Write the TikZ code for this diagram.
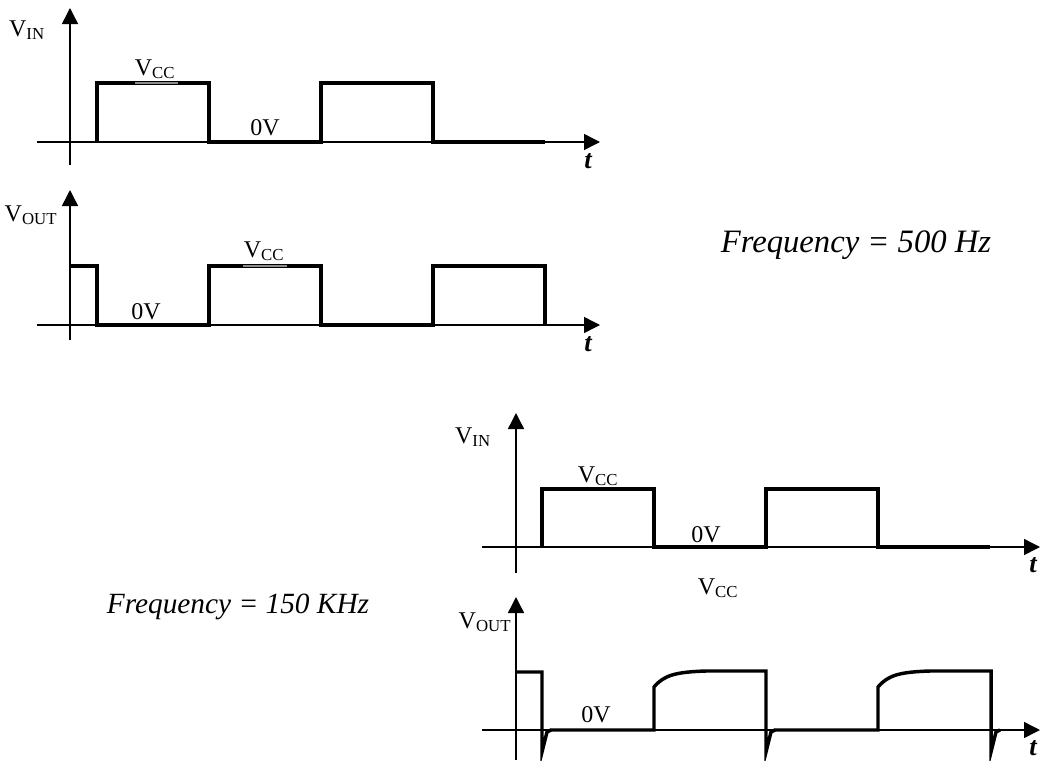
\documentclass[tikz,border=0pt]{standalone}
\usepackage{fontspec}
\setmainfont{Liberation Serif}
\usetikzlibrary{arrows.meta}

\begin{document}
\begin{tikzpicture}[y=-0.75pt,x=0.75pt,
	axis/.style={line width=1.1pt,-{Triangle[length=12pt,width=12pt]}},
	sig/.style={line width=2.6pt,line join=miter},
	mark vcc/.style={line width=1.6pt,black!45},
	lbl/.style={font=\fontsize{18}{21}\selectfont,inner sep=0pt},
	tlbl/.style={font=\fontsize{20}{24}\selectfont\bfseries\itshape,inner sep=0pt},
	freq/.style={font=\fontsize{22}{27}\selectfont\itshape,inner sep=0pt}]
	\useasboundingbox (0,0) rectangle (1041,760);
	\newcommand\VCC{V\textsubscript{CC}}
	\newcommand\Hook{-- +(5,-20) -- +(9,-22)}

	% 500 Hz, input
	\draw[axis] (70,165) -- (70,8);
	\draw[axis] (37,142) -- (600,142);
	\draw[sig] (97,142) -- (97,83) -- (209,83) -- (209,142) -- (321,142) -- (321,83) -- (433,83) -- (433,142) -- (545,142);
	\draw[mark vcc] (135,83) -- (178,83);
	\node[lbl] (vin1) at (27,30) {V\textsubscript{IN}};
	\node[lbl] (vcc1) at (155,69) {\VCC};
	\node[lbl] (zero1) at (265,128) {0V};
	\node[tlbl] (t1) at (588,161) {t};

	% 500 Hz, output
	\draw[axis] (70,340) -- (70,190);
	\draw[axis] (37,325) -- (600,325);
	\draw[sig] (70,266) -- (97,266) -- (97,325) -- (209,325) -- (209,266) -- (321,266) -- (321,325) -- (433,325) -- (433,266) -- (545,266) -- (545,325);
	\draw[mark vcc] (243,266) -- (287,266);
	\node[lbl] (vout2) at (31,215) {V\textsubscript{OUT}};
	\node[lbl] (vcc2) at (264,251) {\VCC};
	\node[lbl] (zero2) at (146,312) {0V};
	\node[tlbl] (t2) at (588,344) {t};

	\node[freq,font=\fontsize{24.5}{29}\selectfont\itshape] (f1) at (856,245) {Frequency = 500 Hz};

	% 150 KHz, input
	\draw[axis] (516,573) -- (516,413);
	\draw[axis] (482,547) -- (1040,547);
	\draw[sig] (542,547) -- (542,489) -- (654,489) -- (654,547) -- (766,547) -- (766,489) -- (878,489) -- (878,547) -- (990,547);
	\node[lbl] (vin3) at (473,437) {V\textsubscript{IN}};
	\node[lbl] (vcc3) at (598,476) {\VCC};
	\node[lbl] (zero3) at (706,535) {0V};
	\node[tlbl] (t3) at (1033,565) {t};

	% 150 KHz, output
	\draw[axis] (516,760) -- (516,597);
	\draw[axis] (482,730) -- (1040,730);
	\draw[sig] (516,672) -- (542,672) -- (542,752) \Hook;
	\draw[sig] (550,730) -- (654,730) -- (654,687) .. controls (664,675) and (676,672) .. (706,671) -- (766,671) -- (766,752) \Hook;
	\draw[sig] (774,730) -- (878,730) -- (878,687) .. controls (888,675) and (900,672) .. (930,671) -- (991,671) -- (991,752) \Hook;
	\node[lbl] (vout4) at (485,622) {V\textsubscript{OUT}};
	\node[lbl] (vcc4) at (718,588) {\VCC};
	\node[lbl] (zero4) at (596,715) {0V};
	\node[tlbl] (t4) at (1033,748) {t};

	\node[freq] (f2) at (238,607) {Frequency = 150 KHz};
\end{tikzpicture}
\end{document}
